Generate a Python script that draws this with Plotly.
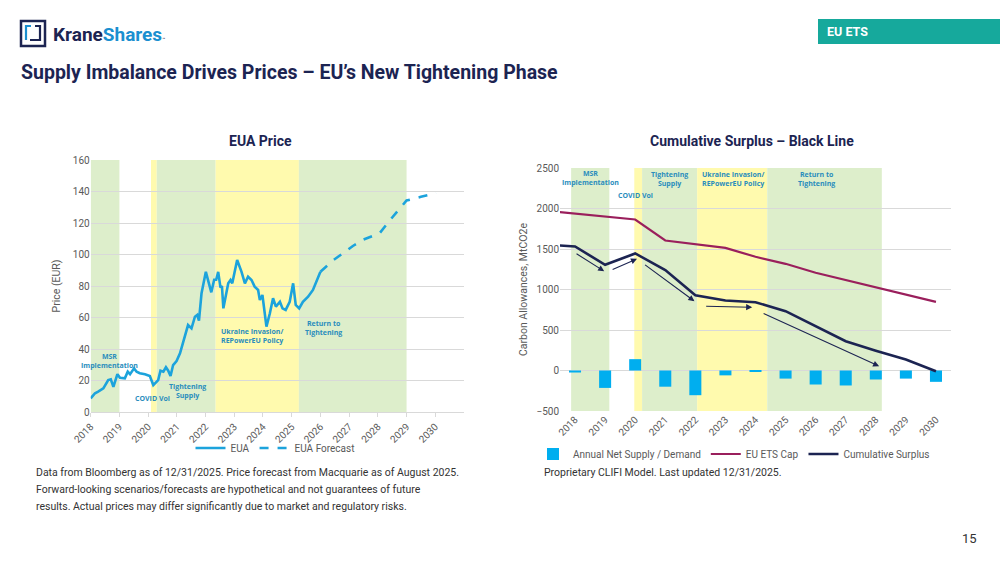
import plotly.graph_objects as go

# ---------------- Data ----------------
# Left chart: EUA price (solid, historic) and forecast (dashed)
eua_years = [2018.00, 2018.15, 2018.26, 2018.44, 2018.61, 2018.70, 2018.79, 2018.93, 2019.02, 2019.19,
             2019.29, 2019.37, 2019.51, 2019.60, 2019.71, 2019.89, 2020.06, 2020.18, 2020.35, 2020.43,
             2020.53, 2020.62, 2020.70, 2020.78, 2020.87, 2020.99, 2021.11, 2021.28, 2021.39, 2021.51,
             2021.63, 2021.71, 2021.77, 2021.86, 2022.01, 2022.20, 2022.30, 2022.37, 2022.44, 2022.52,
             2022.57, 2022.62, 2022.79, 2022.87, 2022.93, 2023.10, 2023.25, 2023.37, 2023.48, 2023.60,
             2023.71, 2023.83, 2023.89, 2023.98, 2024.12, 2024.24, 2024.35, 2024.45, 2024.59, 2024.68,
             2024.79, 2024.93, 2025.05, 2025.14, 2025.26, 2025.39, 2025.57, 2025.74, 2025.92, 2026.00]
eua_price = [8.7, 11.9, 12.9, 15.0, 20.3, 20.8, 16.0, 24.0, 21.8, 21.4,
             25.6, 24.0, 27.7, 25.6, 24.6, 24.0, 22.9, 17.1, 20.3, 26.2,
             25.6, 28.4, 26.2, 22.9, 29.8, 32.4, 37.3, 47.8, 55.2, 53.1,
             60.5, 61.6, 58.0, 75.4, 89.0, 76.0, 84.0, 84.0, 89.0, 79.0,
             80.0, 65.8, 81.7, 83.8, 81.7, 96.5, 89.1, 81.7, 85.9, 83.8,
             79.6, 77.5, 71.1, 74.3, 54.2, 62.7, 72.2, 66.9, 70.0, 65.8,
             64.8, 70.0, 81.7, 68.0, 65.8, 70.0, 73.2, 77.5, 85.9, 89.1]
fc_years = [2026.00, 2026.44, 2026.79, 2027.13, 2027.50, 2028.06, 2028.50, 2029.00, 2029.50, 2030.03]
fc_price = [89.1, 96.3, 100.8, 105.4, 109.5, 113.5, 123.5, 134.3, 136.6, 138.9]

year_ticks = list(range(2018, 2031))
year_labels = [str(y) for y in year_ticks]

# Right chart
line_years = list(range(2017, 2031))
eu_ets_cap = [1972, 1936, 1900, 1864, 1605, 1556, 1514, 1404, 1317, 1206, 1115, 1028, 938, 848]
cum_surplus = [1555, 1531, 1305, 1445, 1240, 930, 864, 843, 732, 547, 362, 245, 136, -10]
bar_years = list(range(2018, 2031))
net_supply = [-25, -215, 140, -200, -305, -60, -10, -100, -173, -185, -111, -100, -140]

# Policy periods (start, end, kind)
left_periods = [(2018.0, 2019.0, "g"), (2020.1, 2020.3, "y"), (2020.3, 2022.35, "g"),
                (2022.35, 2025.25, "y"), (2025.25, 2029.0, "g")]
right_periods = [(2017.87, 2019.14, "g"), (2019.97, 2020.23, "y"), (2020.23, 2022.06, "g"),
                 (2022.06, 2024.39, "y"), (2024.39, 2028.2, "g")]

left_labels = [("MSR<br>Implementation", 2018.64, 32.6), ("COVID Vol", 2020.14, 8.3),
               ("Tightening<br>Supply", 2021.38, 13.3),
               ("Ukraine Invasion/<br>REPowerEU Policy", 2023.63, 48.4),
               ("Return to<br>Tightening", 2026.11, 53.3)]
right_labels = [("MSR<br>Implementation", 2018.5, 2377), ("COVID Vol", 2020.01, 2160),
                ("Tightening<br>Supply", 2021.13, 2370),
                ("Ukraine Invasion/<br>REPowerEU Policy", 2023.24, 2370),
                ("Return to<br>Tightening", 2026.03, 2370)]
# trend arrows (tail x, tail y, head x, head y)
right_arrows = [(2018.0, 1453, 2018.97, 1226), (2019.2, 1238, 2020.06, 1379),
                (2020.28, 1317, 2021.97, 856), (2022.31, 794, 2023.89, 781),
                (2024.22, 712, 2028.11, 53)]

left_note = ["Data from Bloomberg as of 12/31/2025. Price forecast from Macquarie as of August 2025.",
             "Forward-looking scenarios/forecasts are hypothetical and not guarantees of future",
             "results. Actual prices may differ significantly due to market and regulatory risks."]
right_note = "Proprietary CLIFI Model. Last updated 12/31/2025."

# ---------------- Styles ----------------
GREEN = "#ddeecb"
YELLOW = "#fffaae"
NAVY = "#1c2452"
BLUE_LINE = "#1ca3dc"
BAR = "#00aeef"
CAP = "#9a1f5c"
LABEL = "#2a8dbd"
GRID = "#d9d9d9"
TICK = "#595959"
FONT = "Roboto, sans-serif"
LFONT = "Open Sans, Liberation Sans, sans-serif"


def px(x):
    return x / 1000.0


def py(y):
    return 1 - y / 563.0


fig = go.Figure()

fig.add_trace(go.Scatter(x=eua_years, y=eua_price, mode="lines", name="EUA",
                         line=dict(color=BLUE_LINE, width=2.6), xaxis="x", yaxis="y",
                         legend="legend"))
fig.add_trace(go.Scatter(x=fc_years, y=fc_price, mode="lines", name="EUA Forecast",
                         line=dict(color=BLUE_LINE, width=2.6, dash="dash"), xaxis="x", yaxis="y",
                         legend="legend"))

fig.add_trace(go.Bar(x=bar_years, y=net_supply, name="Annual Net Supply / Demand",
                     marker=dict(color=BAR, line=dict(width=0)), width=0.4,
                     xaxis="x2", yaxis="y2", legend="legend2"))
fig.add_trace(go.Scatter(x=line_years, y=eu_ets_cap, mode="lines", name="EU ETS Cap",
                         line=dict(color=CAP, width=2.2), xaxis="x2", yaxis="y2",
                         legend="legend2"))
fig.add_trace(go.Scatter(x=line_years, y=cum_surplus, mode="lines", name="Cumulative Surplus",
                         line=dict(color=NAVY, width=2.6), xaxis="x2", yaxis="y2",
                         legend="legend2"))

shapes = []
for s, e, k in left_periods:
    shapes.append(dict(type="rect", xref="x", yref="y", x0=s, x1=e, y0=0, y1=160,
                       fillcolor=GREEN if k == "g" else YELLOW, line=dict(width=0), layer="below"))
for s, e, k in right_periods:
    shapes.append(dict(type="rect", xref="x2", yref="y2", x0=s, x1=e, y0=-500, y1=2500,
                       fillcolor=GREEN if k == "g" else YELLOW, line=dict(width=0), layer="below"))

# Header: logo and tag
shapes.append(dict(type="rect", xref="paper", yref="paper", x0=px(21), x1=px(45), y0=py(46), y1=py(21),
                   line=dict(color=NAVY, width=2.5), fillcolor="white"))
shapes.append(dict(type="path", xref="paper", yref="paper",
                   path="M %f %f L %f %f L %f %f" % (px(31), py(26), px(26), py(26), px(26), py(40)),
                   line=dict(color="#1a8fd0", width=2.2)))
shapes.append(dict(type="path", xref="paper", yref="paper",
                   path="M %f %f L %f %f L %f %f L %f %f" % (px(35), py(26), px(40), py(26), px(40), py(40),
                                                           px(30), py(40)),
                   line=dict(color=NAVY, width=2.2)))
shapes.append(dict(type="rect", xref="paper", yref="paper", x0=px(818), x1=1.0, y0=py(44), y1=py(19),
                   fillcolor="#16a99c", line=dict(width=0)))

annotations = []
annotations.append(dict(text="<b>Krane<span style='color:#1a8fd0'>Shares</span></b><span style='font-size:5px'>™</span>",
                        x=px(51), y=py(34), xref="paper", yref="paper", xanchor="left", yanchor="middle",
                        showarrow=False, font=dict(family="Roboto, sans-serif", size=19, color=NAVY)))
annotations.append(dict(text="<b>EU ETS</b>", x=px(825), y=py(32), xref="paper", yref="paper",
                        xanchor="left", yanchor="middle", showarrow=False,
                        font=dict(family=FONT, size=12.5, color="white")))
annotations.append(dict(text="<b>Supply Imbalance Drives Prices – EU’s New Tightening Phase</b>",
                        x=px(19), y=py(73), xref="paper", yref="paper", xanchor="left", yanchor="middle",
                        showarrow=False, font=dict(family=FONT, size=19.5, color=NAVY)))
annotations.append(dict(text="<b>EUA Price</b>", x=px(260), y=py(141), xref="paper", yref="paper",
                        xanchor="center", yanchor="middle", showarrow=False,
                        font=dict(family=FONT, size=14, color=NAVY)))
annotations.append(dict(text="<b>Cumulative Surplus – Black Line</b>", x=px(752), y=py(141),
                        xref="paper", yref="paper", xanchor="center", yanchor="middle", showarrow=False,
                        font=dict(family=FONT, size=14, color=NAVY)))

for t, x, y in left_labels:
    annotations.append(dict(text="<b>%s</b>" % t, x=x, y=y, xref="x", yref="y", showarrow=False,
                            font=dict(family=LFONT, size=7, color=LABEL)))
for t, x, y in right_labels:
    annotations.append(dict(text="<b>%s</b>" % t, x=x, y=y, xref="x2", yref="y2", showarrow=False,
                            font=dict(family=LFONT, size=7, color=LABEL)))
for x0, y0, x1, y1 in right_arrows:
    annotations.append(dict(x=x1, y=y1, ax=x0, ay=y0, xref="x2", yref="y2", axref="x2", ayref="y2",
                            text="", showarrow=True, arrowhead=2, arrowsize=1.1, arrowwidth=1.1,
                            arrowcolor=NAVY, standoff=0))

for i, line in enumerate(left_note):
    annotations.append(dict(text=line, x=px(34), y=py(472 + 17 * i), xref="paper", yref="paper",
                            xanchor="left", yanchor="middle", align="left", showarrow=False,
                            font=dict(family=FONT, size=10.5, color="#333333")))
annotations.append(dict(text=right_note, x=px(542), y=py(472), xref="paper", yref="paper",
                        xanchor="left", yanchor="middle", align="left", showarrow=False,
                        font=dict(family=FONT, size=10.5, color="#333333")))
annotations.append(dict(text="15", x=px(979), y=py(538), xref="paper", yref="paper", xanchor="right",
                        yanchor="middle", showarrow=False, font=dict(family=FONT, size=13, color="#333333")))

axis_common = dict(tickfont=dict(family=FONT, size=10, color=TICK))

fig.update_layout(
    width=1000, height=563, margin=dict(l=0, r=0, t=0, b=0, autoexpand=False),
    paper_bgcolor="white", plot_bgcolor="white",
    font=dict(family=FONT, color=TICK),
    xaxis=dict(domain=[px(90.7), px(464)], range=[2018, 2031], tickvals=year_ticks, ticktext=year_labels,
               tickangle=-45, showgrid=False, showline=True, linecolor=GRID, linewidth=1,
               ticks="outside", ticklen=4, tickcolor=GRID, zeroline=False, anchor="y", **axis_common),
    yaxis=dict(domain=[py(412), py(160)], range=[0, 160], dtick=20, gridcolor=GRID, zeroline=False,
               showline=False, ticks="", anchor="x",
               title=dict(text="Price (EUR)", font=dict(family=FONT, size=10.5, color=TICK), standoff=10),
               **axis_common),
    xaxis2=dict(domain=[px(560), px(951)], range=[2017.5, 2030.5], tickvals=year_ticks, ticktext=year_labels,
                tickangle=-45, showgrid=False, showline=False, zeroline=False, ticks="", anchor="y2",
                **axis_common),
    yaxis2=dict(domain=[py(411), py(168)], range=[-500, 2500], dtick=500, gridcolor=GRID, zeroline=False,
                showline=False, ticks="", anchor="x2",
                title=dict(text="Carbon Allowances, MtCO2e", font=dict(family=FONT, size=10.5, color=TICK),
                           standoff=6),
                **axis_common),
    legend=dict(orientation="h", x=px(275), y=py(448), xanchor="center", yanchor="middle",
                font=dict(family=FONT, size=10, color=TICK), bgcolor="rgba(0,0,0,0)"),
    legend2=dict(orientation="h", x=px(734), y=py(454), xanchor="center", yanchor="middle",
                 itemwidth=30, font=dict(family=FONT, size=10, color=TICK), bgcolor="rgba(0,0,0,0)"),
    shapes=shapes, annotations=annotations, bargap=0.6,
)

fig.write_html("out.html")
